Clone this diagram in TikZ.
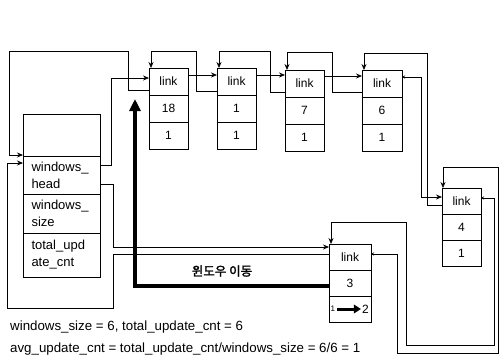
\documentclass[tikz,border=0pt]{standalone}
\usepackage{fontspec}
\setmainfont{Liberation Sans}
\newfontfamily\krfont{Noto Sans CJK KR}[AutoFakeBold=2]
\usetikzlibrary{arrows.meta,calc}
\begin{document}
\begin{tikzpicture}[x=1pt,y=-1pt,
  cell/.style={draw, line width=0.8pt, minimum width=39pt, minimum height=27pt,
    inner sep=0pt, outer sep=0pt, anchor=north west, font=\fontsize{12}{13}\selectfont},
  hcell/.style={draw, line width=0.8pt, minimum width=77pt, text width=60pt,
    inner xsep=8.5pt, inner ysep=0pt, outer sep=0pt, anchor=north west,
    align=left, font=\fontsize{13}{17}\selectfont},
  wire/.style={line width=0.7pt},
  ptr/.style={wire, -{Stealth[length=6pt,width=5pt]}},
  sptr/.style={wire, {Stealth[length=3pt,width=3pt]}-{Stealth[length=6pt,width=5pt]}},
  bigarrow/.style={line width=4.5pt, -{Triangle[length=12pt,width=11pt]}},
  note/.style={anchor=base west, inner sep=0pt, font=\fontsize{13.3}{13.3}\selectfont}
]
\useasboundingbox (0,0) rectangle (500,357);

% header
\node[hcell, minimum height=42pt] (ha) at (23,114) {};
\node[hcell, minimum height=38pt] (hb) at (ha.south west) {windows\_\\head};
\node[hcell, minimum height=39pt] (hc) at (hb.south west) {windows\_\\size};
\node[hcell, minimum height=44pt] (hd) at (hc.south west) {total\_upd\\ate\_cnt};

% nodes of the list
\node[cell] (n1a) at (149,68) {link};
\node[cell] (n1b) at (n1a.south west) {18};
\node[cell] (n1c) at (n1b.south west) {1};

\node[cell] (n2a) at (217,68) {link};
\node[cell] (n2b) at (n2a.south west) {1};
\node[cell] (n2c) at (n2b.south west) {1};

\node[cell] (n3a) at (285,70) {link};
\node[cell] (n3b) at (n3a.south west) {7};
\node[cell] (n3c) at (n3b.south west) {1};

\node[cell, minimum width=40pt] (n4a) at (362,70) {link};
\node[cell, minimum width=40pt] (n4b) at (n4a.south west) {6};
\node[cell, minimum width=40pt] (n4c) at (n4b.south west) {1};

\node[cell, minimum height=26pt] (n5a) at (442,188) {link};
\node[cell, minimum height=26pt] (n5b) at (n5a.south west) {4};
\node[cell, minimum height=26pt] (n5c) at (n5b.south west) {1};

\node[cell, minimum width=42pt, minimum height=26pt] (n6a) at (329,244) {link};
\node[cell, minimum width=42pt, minimum height=26pt] (n6b) at (n6a.south west) {3};
\node[cell, minimum width=42pt, minimum height=26pt] (n6c) at (n6b.south west) {};
\node[anchor=west, inner sep=0pt, font=\fontsize{8}{8}\selectfont] (one) at ([xshift=1.5pt]n6c.west) {1};
\node[anchor=east, inner sep=0pt, font=\fontsize{12}{13}\selectfont] (two) at ([xshift=-2pt]n6c.east) {2};
\draw[line width=3pt, -{Triangle[length=7pt,width=8.5pt]}] ([xshift=2pt]one.east) -- ([xshift=-1pt]two.west);

% next pointers along the top row
\draw[ptr] ([yshift=6.5pt]n1a.east) -- ([yshift=6.5pt]n1a.east -| n2a.west);
\draw[ptr] ([yshift=6.5pt]n2a.east) -- ([yshift=6.5pt]n2a.east -| n3a.west);
\draw[ptr] ([yshift=7.5pt]n3a.east) -- ([yshift=7.5pt]n3a.east -| n4a.west);
\draw[sptr] ([yshift=6.5pt]n4a.east) -- ++(19,0) |- ([yshift=4pt]n5a.west);

% prev pointers
\draw[ptr] ([yshift=-10pt]n2a.west) -- ++(-21,0) -- ++(0,-40.5) -| ([xshift=2pt]n1a.north west);
\draw[ptr] ([yshift=-9pt]n3a.west) -- ++(-15,0) -- ++(0,-41.5) -| ([xshift=2pt]n2a.north west);
\draw[ptr] ([yshift=-9pt]n4a.west) -- ++(-30,0) -- ++(0,-40.5) -| ([xshift=2pt]n3a.north west);
\draw[ptr] ([yshift=-4pt]n5a.west) -- ++(-15,0) -- ++(0,-152) -| ([xshift=2pt]n4a.north west);
\draw[ptr] ([yshift=-9pt]n1a.west) -- ++(-21,0) -- ++(0,-39.5) -- ++(-119,0) |- ([yshift=1pt]hb.north west);

% header pointers
\draw[ptr] ([yshift=10pt]hb.east) -- ++(11,0) |- ([yshift=3.5pt]n1a.west);
\draw[ptr] ([yshift=-9pt]hb.east) -- ++(13,0) |- ([yshift=10pt]n6a.west);
\draw[ptr] ([yshift=3pt]n6a.west) -- ++(-216,0) -- ++(0,54) -- ++(-106,0) |- ([yshift=-7pt]hb.north west);

% links between node 5 and node 6
\draw[sptr] ([yshift=3pt]n5a.east) -- ++(13,0) -- ++(0,147) -- ++(-88,0) -- ++(0,-123) -| ([xshift=2pt]n6a.north west);
\draw[sptr] ([yshift=3pt]n6a.east) -- ++(26,0) -- ++(0,99) -- ++(101,0) -- ++(0,-186) -| ([xshift=1pt]n5a.north west);

% window move arrow
\coordinate (movetip) at (135,99);
\draw[bigarrow] ([yshift=-3pt]n6b.west) -| (movetip);
\node[font=\krfont\bfseries\fontsize{12.5}{12.5}\selectfont] (lbl) at (222,271) {윈도우 이동};

% notes
\node[note] (t1) at (10,330) {windows\_size = 6, total\_update\_cnt = 6};
\node[note] (t2) at (10,352) {avg\_update\_cnt = total\_update\_cnt/windows\_size = 6/6 = 1};
\end{tikzpicture}
\end{document}
